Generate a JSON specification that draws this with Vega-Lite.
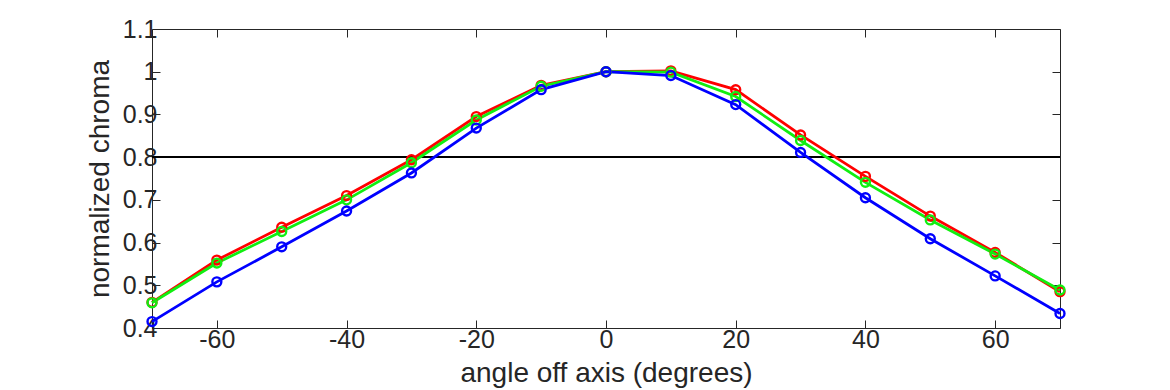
{
  "$schema": "https://vega.github.io/schema/vega-lite/v6.json",
  "width": 908,
  "height": 299,
  "autosize": {"type": "none"},
  "padding": {"left": 152, "top": 29, "right": 110, "bottom": 62},
  "background": "white",
  "config": {
    "view": {"stroke": "#262626", "strokeWidth": 1},
    "font": "Liberation Sans",
    "axis": {
      "grid": false,
      "domain": false,
      "tickColor": "#262626",
      "tickSize": -8,
      "tickWidth": 1,
      "labelFont": "Liberation Sans",
      "labelFontSize": 25,
      "labelColor": "#262626",
      "titleFont": "Liberation Sans",
      "titleFontSize": 28,
      "titleFontWeight": "normal",
      "titleColor": "#262626"
    }
  },
  "data": {
    "values": [
      {"angle": -70, "chroma": 0.46, "series": "red"},
      {"angle": -60, "chroma": 0.559, "series": "red"},
      {"angle": -50, "chroma": 0.636, "series": "red"},
      {"angle": -40, "chroma": 0.71, "series": "red"},
      {"angle": -30, "chroma": 0.794, "series": "red"},
      {"angle": -20, "chroma": 0.895, "series": "red"},
      {"angle": -10, "chroma": 0.968, "series": "red"},
      {"angle": 0, "chroma": 1.0, "series": "red"},
      {"angle": 10, "chroma": 1.002, "series": "red"},
      {"angle": 20, "chroma": 0.958, "series": "red"},
      {"angle": 30, "chroma": 0.852, "series": "red"},
      {"angle": 40, "chroma": 0.755, "series": "red"},
      {"angle": 50, "chroma": 0.662, "series": "red"},
      {"angle": 60, "chroma": 0.577, "series": "red"},
      {"angle": 70, "chroma": 0.485, "series": "red"},
      {"angle": -70, "chroma": 0.459, "series": "green"},
      {"angle": -60, "chroma": 0.552, "series": "green"},
      {"angle": -50, "chroma": 0.626, "series": "green"},
      {"angle": -40, "chroma": 0.7, "series": "green"},
      {"angle": -30, "chroma": 0.787, "series": "green"},
      {"angle": -20, "chroma": 0.887, "series": "green"},
      {"angle": -10, "chroma": 0.966, "series": "green"},
      {"angle": 0, "chroma": 1.0, "series": "green"},
      {"angle": 10, "chroma": 0.999, "series": "green"},
      {"angle": 20, "chroma": 0.942, "series": "green"},
      {"angle": 30, "chroma": 0.839, "series": "green"},
      {"angle": 40, "chroma": 0.741, "series": "green"},
      {"angle": 50, "chroma": 0.653, "series": "green"},
      {"angle": 60, "chroma": 0.573, "series": "green"},
      {"angle": 70, "chroma": 0.489, "series": "green"},
      {"angle": -70, "chroma": 0.415, "series": "blue"},
      {"angle": -60, "chroma": 0.508, "series": "blue"},
      {"angle": -50, "chroma": 0.59, "series": "blue"},
      {"angle": -40, "chroma": 0.674, "series": "blue"},
      {"angle": -30, "chroma": 0.763, "series": "blue"},
      {"angle": -20, "chroma": 0.868, "series": "blue"},
      {"angle": -10, "chroma": 0.958, "series": "blue"},
      {"angle": 0, "chroma": 1.0, "series": "blue"},
      {"angle": 10, "chroma": 0.991, "series": "blue"},
      {"angle": 20, "chroma": 0.923, "series": "blue"},
      {"angle": 30, "chroma": 0.811, "series": "blue"},
      {"angle": 40, "chroma": 0.705, "series": "blue"},
      {"angle": 50, "chroma": 0.609, "series": "blue"},
      {"angle": 60, "chroma": 0.522, "series": "blue"},
      {"angle": 70, "chroma": 0.434, "series": "blue"}
    ]
  },
  "layer": [
    {
      "mark": {"type": "rule", "color": "black", "strokeWidth": 1},
      "encoding": {
        "y": {"datum": 0.8, "type": "quantitative", "scale": {"domain": [0.4, 1.1], "nice": false}, "axis": {"orient": "left", "values": [0.4, 0.5, 0.6, 0.7, 0.8, 0.9, 1, 1.1], "labelExpr": "'' + datum.value", "title": "normalized chroma", "labelPadding": 3, "titlePadding": 8}}
      }
    },
    {
      "mark": {"type": "line", "strokeWidth": 2.8, "point": {"filled": false, "size": 80, "strokeWidth": 2.4}},
      "encoding": {
        "x": {"field": "angle", "type": "quantitative", "scale": {"domain": [-70, 70], "nice": false}, "axis": {"orient": "bottom", "values": [-60, -40, -20, 0, 20, 40, 60], "labelExpr": "'' + datum.value", "title": "angle off axis (degrees)", "labelPadding": 7, "titlePadding": 7}},
        "y": {"field": "chroma", "type": "quantitative", "scale": {"domain": [0.4, 1.1], "nice": false}, "axis": {"orient": "right", "values": [0.4, 0.5, 0.6, 0.7, 0.8, 0.9, 1, 1.1], "labels": false, "title": null}},
        "color": {"field": "series", "type": "nominal", "scale": {"domain": ["red", "green", "blue"], "range": ["#ff0000", "#11ee11", "#0000ff"]}, "legend": null},
        "order": {"field": "angle", "type": "quantitative"}
      }
    },
    {
      "mark": {"type": "rule", "opacity": 0},
      "encoding": {
        "x": {"datum": 0, "type": "quantitative", "axis": {"orient": "top", "values": [-60, -40, -20, 0, 20, 40, 60], "labels": false, "title": null}}
      }
    }
  ],
  "resolve": {"axis": {"x": "independent", "y": "independent"}}
}
